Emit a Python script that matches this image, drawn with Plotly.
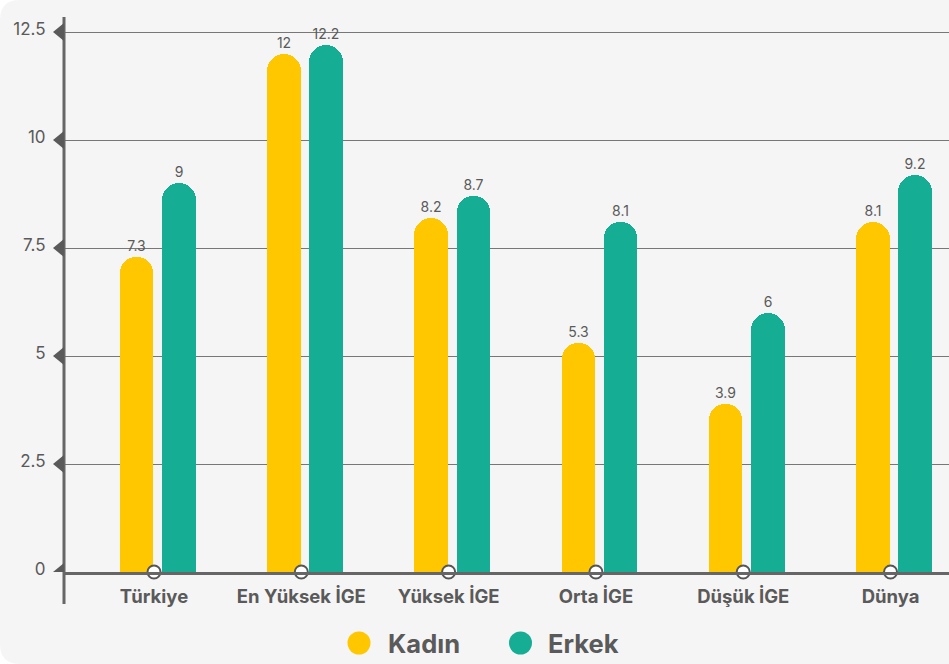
import plotly.graph_objects as go

categories = ["Türkiye", "En Yüksek İGE", "Yüksek İGE", "Orta İGE", "Düşük İGE", "Dünya"]
kadin = [7.3, 12, 8.2, 5.3, 3.9, 8.1]
erkek = [9, 12.2, 8.7, 8.1, 6, 9.2]
series_names = ["Kadın", "Erkek"]
y_ticks = [0, 2.5, 5, 7.5, 10, 12.5]
y_tick_labels = ["0", "2.5", "5", "7.5", "10", "12.5"]

C_K = "#FFC700"
C_E = "#15AE95"
GREY = "#666666"
TXT = "#5a5a5a"
FONT = "Inter"

W, H = 949, 664
ML, MR, MT, MB = 64, 0, 17, 92
PW, PH = W - ML - MR, H - MT - MB

fig = go.Figure()
for name, vals, col, off in [(series_names[0], kadin, C_K, -0.233), (series_names[1], erkek, C_E, 0.054)]:
    fig.add_trace(go.Bar(
        x=categories, y=vals, name=name,
        marker=dict(color=col, cornerradius="50%", line=dict(width=0)),
        width=0.228, offset=off,
        text=[str(v) for v in vals], textposition="outside",
        textfont=dict(size=14, color=TXT, family=FONT),
        cliponaxis=False, showlegend=False, hoverinfo="x+y",
    ))

fig.add_trace(go.Scatter(
    x=categories, y=[0] * len(categories), mode="markers",
    marker=dict(size=13, color="white", line=dict(width=2, color="#555555")),
    cliponaxis=False, showlegend=False, hoverinfo="skip",
))

shapes = []
# card background
r = 20
L, R, T, B = -ML, PW + 5, PH + MT, -MB
path = (f"M {L+r},{T} L {R},{T} L {R},{B} L {L+r},{B} Q {L},{B} {L},{B+r} "
        f"L {L},{T-r} Q {L},{T} {L+r},{T} Z")
shapes.append(dict(type="path", xref="paper", yref="paper", xsizemode="pixel", ysizemode="pixel",
                   xanchor=0, yanchor=0, path=path, fillcolor="#f5f5f5", line=dict(width=0), layer="below"))
# y axis line
shapes.append(dict(type="line", xref="paper", yref="paper", x0=0, x1=0, y0=-32 / PH, y1=1.0,
                   line=dict(color=GREY, width=3), layer="above"))
# triangles at ticks
for t in y_ticks:
    shapes.append(dict(type="path", xref="paper", yref="y", xsizemode="pixel", ysizemode="pixel",
                       xanchor=0, yanchor=t, path="M 0,-9 L 0,9 L -11,0 Z",
                       fillcolor="#5a5a5a", line=dict(width=0), layer="above"))

# manual legend
annotations = []
leg_y = (H - MB - 643) / PH
for name, col, cx, tx in [(series_names[0], C_K, 359, 386), (series_names[1], C_E, 520.5, 546)]:
    shapes.append(dict(type="circle", xref="paper", yref="paper", xsizemode="pixel", ysizemode="pixel",
                       xanchor=(cx - ML) / PW, yanchor=leg_y, x0=-11.5, x1=11.5, y0=-11.5, y1=11.5,
                       fillcolor=col, line=dict(width=0)))
    annotations.append(dict(xref="paper", yref="paper", x=(tx - ML) / PW, y=leg_y, xanchor="left",
                            yanchor="middle", text=f"<b>{name}</b>", showarrow=False,
                            font=dict(size=25.5, color=TXT, family=FONT)))

fig.update_layout(
    width=W, height=H,
    margin=dict(l=ML, r=MR, t=MT, b=MB),
    paper_bgcolor="white", plot_bgcolor="rgba(0,0,0,0)",
    barmode="overlay", bargap=0,
    font=dict(family=FONT, color=TXT),
    shapes=shapes, annotations=annotations,
    showlegend=False,
    xaxis=dict(type="category", range=[-0.611, 5.397], showgrid=False, zeroline=False,
               showline=True, linecolor=GREY, linewidth=2.5,
               ticks="outside", ticklen=6, tickcolor="rgba(0,0,0,0)",
               tickfont=dict(size=18.5, color=TXT, family=FONT),
               tickvals=categories, ticktext=[f"<b>{c}</b>" for c in categories]),
    yaxis=dict(range=[0, 12.85], tickvals=y_ticks, ticktext=y_tick_labels,
               showgrid=True, gridcolor="#777777", gridwidth=1, zeroline=False, showline=False,
               ticks="outside", ticklen=14, tickcolor="rgba(0,0,0,0)", ticklabelshift=-3,
               tickfont=dict(size=17, color=TXT, family=FONT)),
)

fig.write_html("out.html", config={"displayModeBar": False},
               post_script="document.body.style.margin='0';document.body.style.padding='0';")
